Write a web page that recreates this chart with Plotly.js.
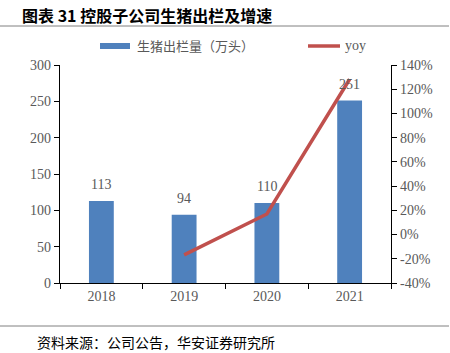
<!DOCTYPE html>
<html>
<head>
<meta charset="utf-8">
<script src="https://cdn.plot.ly/plotly-3.0.1.min.js"></script>
<style>html,body{margin:0;padding:0;background:#fff;}#chart{width:450px;height:353px;}</style>
</head>
<body>
<div id="chart"></div>
<script>
const years = ['2018', '2019', '2020', '2021'];
const output = [113, 94, 110, 251];          // 生猪出栏量（万头）
const yoyYears = ['2019', '2020', '2021'];
const yoy = [-16.8, 17.0, 128.2];            // yoy %
const leftTicks = [0, 50, 100, 150, 200, 250, 300];
const rightTicks = [-40, -20, 0, 20, 40, 60, 80, 100, 120, 140];

const gray = '#595959';
const serif = 'Liberation Serif, Times New Roman, serif';
const cjk = 'Noto Sans CJK SC, sans-serif';

// pixel -> paper helpers (plot area: x 60..391, y 65..283)
const L = 60, R = 391, T = 65, B = 283;
const px = v => (v - L) / (R - L);
const py = v => (B - v) / (B - T);

const traces = [
  {
    type: 'bar', x: years, y: output, marker: {color: '#4F81BD'},
    width: 0.3, showlegend: false, hoverinfo: 'skip'
  },
  {
    type: 'scatter', mode: 'lines', x: yoyYears, y: yoy, yaxis: 'y2',
    line: {color: '#C0504D', width: 3.5}, showlegend: false, hoverinfo: 'skip'
  }
];

// value labels above bars (x given as category index)
const annotations = output.map((v, i) => ({
  x: i, y: v, xref: 'x', yref: 'y', text: String(v),
  showarrow: false, xanchor: 'center', yanchor: 'bottom', yshift: 7,
  font: {family: serif, size: 14, color: gray}
}));

annotations.push(
  {xref: 'paper', yref: 'paper', x: px(135), y: py(46), xanchor: 'left', yanchor: 'middle',
   text: '生猪出栏量（万头）', showarrow: false, font: {family: cjk, size: 13, color: gray}},
  {xref: 'paper', yref: 'paper', x: px(343), y: py(46), xanchor: 'left', yanchor: 'middle',
   text: 'yoy', showarrow: false, font: {family: serif, size: 14, color: gray}},
  {xref: 'paper', yref: 'paper', x: px(35), y: py(342), xanchor: 'left', yanchor: 'middle',
   text: '资料来源：公司公告，华安证券研究所', showarrow: false, font: {family: cjk, size: 14, color: '#000'}}
);

const shapes = [
  {type: 'line', xref: 'paper', yref: 'paper', x0: px(0), x1: px(449), y0: py(26), y1: py(26),
   line: {color: '#808080', width: 1}},
  {type: 'line', xref: 'paper', yref: 'paper', x0: px(0), x1: px(449), y0: py(326), y1: py(326),
   line: {color: '#808080', width: 1}},
  {type: 'rect', xref: 'paper', yref: 'paper', x0: px(100), x1: px(130), y0: py(43), y1: py(49),
   fillcolor: '#4F81BD', line: {width: 0}},
  {type: 'line', xref: 'paper', yref: 'paper', x0: px(308), x1: px(340), y0: py(46), y1: py(46),
   line: {color: '#C0504D', width: 3.5}}
];

const layout = {
  width: 450, height: 353,
  margin: {l: L, r: 450 - R, t: T, b: 353 - B, pad: 0},
  paper_bgcolor: '#fff', plot_bgcolor: '#fff',
  showlegend: false,
  title: {
    text: '<b>图表 31 控股子公司生猪出栏及增速</b>',
    x: 22 / 450, xanchor: 'left', xref: 'container',
    y: 1 - 16 / 353, yanchor: 'middle', yref: 'container',
    font: {family: cjk, size: 16, color: '#000'}
  },
  xaxis: {
    type: 'category', range: [-0.5, 3.5], tickson: 'boundaries',
    showline: true, linecolor: '#000', linewidth: 1.3,
    ticks: 'outside', ticklen: 5, tickcolor: '#000',
    showgrid: false, zeroline: false,
    tickfont: {family: serif, size: 14, color: gray}
  },
  yaxis: {
    range: [0, 300], tickvals: leftTicks, ticktext: leftTicks.map(String),
    showline: true, linecolor: '#000', linewidth: 1.3,
    ticks: 'outside', ticklen: 5, tickcolor: '#000',
    showgrid: false, zeroline: false,
    tickfont: {family: serif, size: 14, color: gray}
  },
  yaxis2: {
    overlaying: 'y', side: 'right', range: [-40, 140],
    tickvals: rightTicks, ticktext: rightTicks.map(v => v + '%'),
    showline: true, linecolor: '#000', linewidth: 1.3,
    ticks: 'outside', ticklen: 5, tickcolor: '#000',
    showgrid: false, zeroline: false,
    tickfont: {family: serif, size: 14, color: gray}
  },
  annotations: annotations,
  shapes: shapes
};

Plotly.newPlot('chart', traces, layout, {displayModeBar: false, staticPlot: true});
</script>
</body>
</html>
